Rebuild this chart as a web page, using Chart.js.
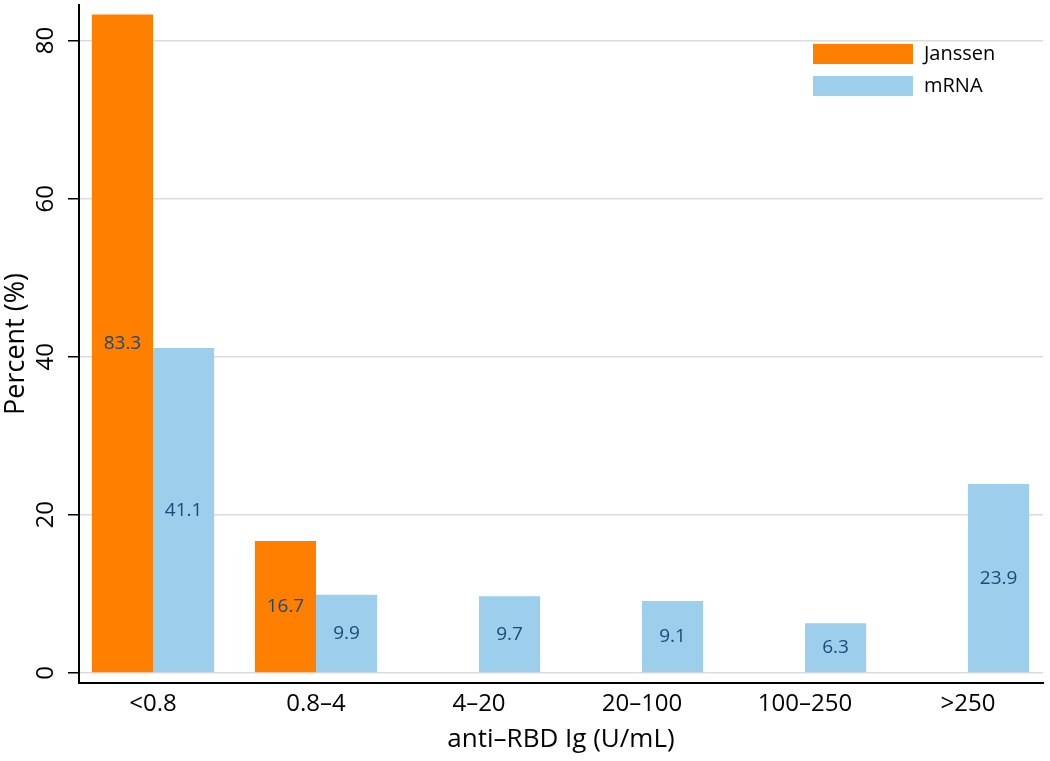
<!DOCTYPE html>
<html>
<head>
<meta charset="utf-8">
<script src="https://cdn.jsdelivr.net/npm/chart.js@4"></script>
<style>
  html, body { margin: 0; padding: 0; background: #fff; }
  #wrap { width: 1050px; height: 761px; }
</style>
</head>
<body>
<div id="wrap"><canvas id="myChart"></canvas></div>
<script>
// Antibody level categories for the x-axis
const categories = ['<0.8', '0.8\u20134', '4\u201320', '20\u2013100', '100\u2013250', '>250'];

// Percent of recipients in each category
const janssen = [83.3, 16.7, 0, 0, 0, 0];
const mrna = [41.1, 9.9, 9.7, 9.1, 6.3, 23.9];

const yTicks = [0, 20, 40, 60, 80];

const FONT = '"Open Sans", "DejaVu Sans", sans-serif';

// bars sit on a linear x scale so the category slots can be placed like the original
const toPoints = (arr) => arr.map((v, i) => ({ x: i, y: v }));

const data = {
    datasets: [{
        label: 'Janssen',
        data: toPoints(janssen),
        backgroundColor: '#ff7f00',
        borderWidth: 0
    }, {
        label: 'mRNA',
        data: toPoints(mrna),
        backgroundColor: '#9dcfed',
        borderWidth: 0
    }]
};

// value labels in the middle of each bar
const barLabels = {
    id: 'barLabels',
    afterDatasetsDraw(chart) {
        const ctx = chart.ctx;
        ctx.save();
        ctx.font = '19px ' + FONT;
        ctx.fillStyle = '#1c4a78';
        ctx.textAlign = 'center';
        ctx.textBaseline = 'middle';
        chart.data.datasets.forEach((ds, di) => {
            chart.getDatasetMeta(di).data.forEach((bar, i) => {
                const v = ds.data[i].y;
                if (!v) return;
                ctx.fillText(v.toFixed(1), bar.x, (bar.y + bar.base) / 2);
            });
        });
        ctx.restore();
    }
};

// rotated y tick labels (Stata style) and the legend box in the top right of the plot
const extras = {
    id: 'extras',
    afterDraw(chart) {
        const ctx = chart.ctx;
        const y = chart.scales.y;
        const area = chart.chartArea;
        ctx.save();
        ctx.fillStyle = '#000';
        ctx.font = '24px ' + FONT;
        ctx.textAlign = 'center';
        ctx.textBaseline = 'middle';
        yTicks.forEach(t => {
            ctx.save();
            ctx.translate(area.left - 33, y.getPixelForValue(t));
            ctx.rotate(-Math.PI / 2);
            ctx.fillText(String(t), 0, 0);
            ctx.restore();
        });

        // legend
        ctx.font = '20px ' + FONT;
        ctx.textAlign = 'left';
        chart.data.datasets.forEach((ds, i) => {
            const bx = area.right - 230;
            const by = area.top + 39 + i * 32;
            ctx.fillStyle = ds.backgroundColor;
            ctx.fillRect(bx, by, 100, 20);
            ctx.fillStyle = '#000';
            ctx.fillText(ds.label, bx + 111, by + 10);
        });
        ctx.restore();
    }
};

const options = {
    responsive: true,
    maintainAspectRatio: false,
    animation: false,
    layout: {
        padding: { top: 5, right: 7, left: 0, bottom: 0 }
    },
    plugins: {
        legend: { display: false },
        tooltip: { enabled: false }
    },
    datasets: {
        bar: {
            categoryPercentage: 0.75,
            barPercentage: 1.0
        }
    },
    scales: {
        x: {
            type: 'linear',
            offset: false,
            min: -0.454,
            max: 5.46,
            afterBuildTicks: (scale) => {
                scale.ticks = categories.map((c, i) => ({ value: i }));
            },
            afterFit: (scale) => { scale.height = 78; },
            grid: {
                display: false,
                drawTicks: false
            },
            border: {
                display: true,
                color: '#000',
                width: 2
            },
            ticks: {
                autoSkip: false,
                maxRotation: 0,
                padding: 7,
                color: '#000',
                font: { family: FONT, size: 24 },
                callback: (v) => categories[v]
            },
            title: {
                display: true,
                text: 'anti\u2013RBD Ig (U/mL)',
                color: '#000',
                font: { family: FONT, size: 26 },
                padding: { top: 0, bottom: 6 }
            }
        },
        y: {
            min: -1.27,
            max: 84.5,
            afterBuildTicks: (scale) => {
                scale.ticks = yTicks.map(v => ({ value: v }));
            },
            afterFit: (scale) => { scale.width = 79; },
            grid: {
                color: '#dcdcdc',
                lineWidth: 1.5,
                tickColor: '#000',
                tickLength: 11,
                tickWidth: 1.5
            },
            border: {
                display: true,
                color: '#000',
                width: 2
            },
            ticks: {
                display: false
            },
            title: {
                display: true,
                text: 'Percent (%)',
                color: '#000',
                font: { family: FONT, size: 27 },
                padding: { top: 0, bottom: 0 }
            }
        }
    }
};

const cox = document.getElementById('myChart').getContext('2d');
const myChart = new Chart(cox, {
    type: 'bar',
    data: data,
    options: options,
    plugins: [barLabels, extras]
});
</script>
</body>
</html>
